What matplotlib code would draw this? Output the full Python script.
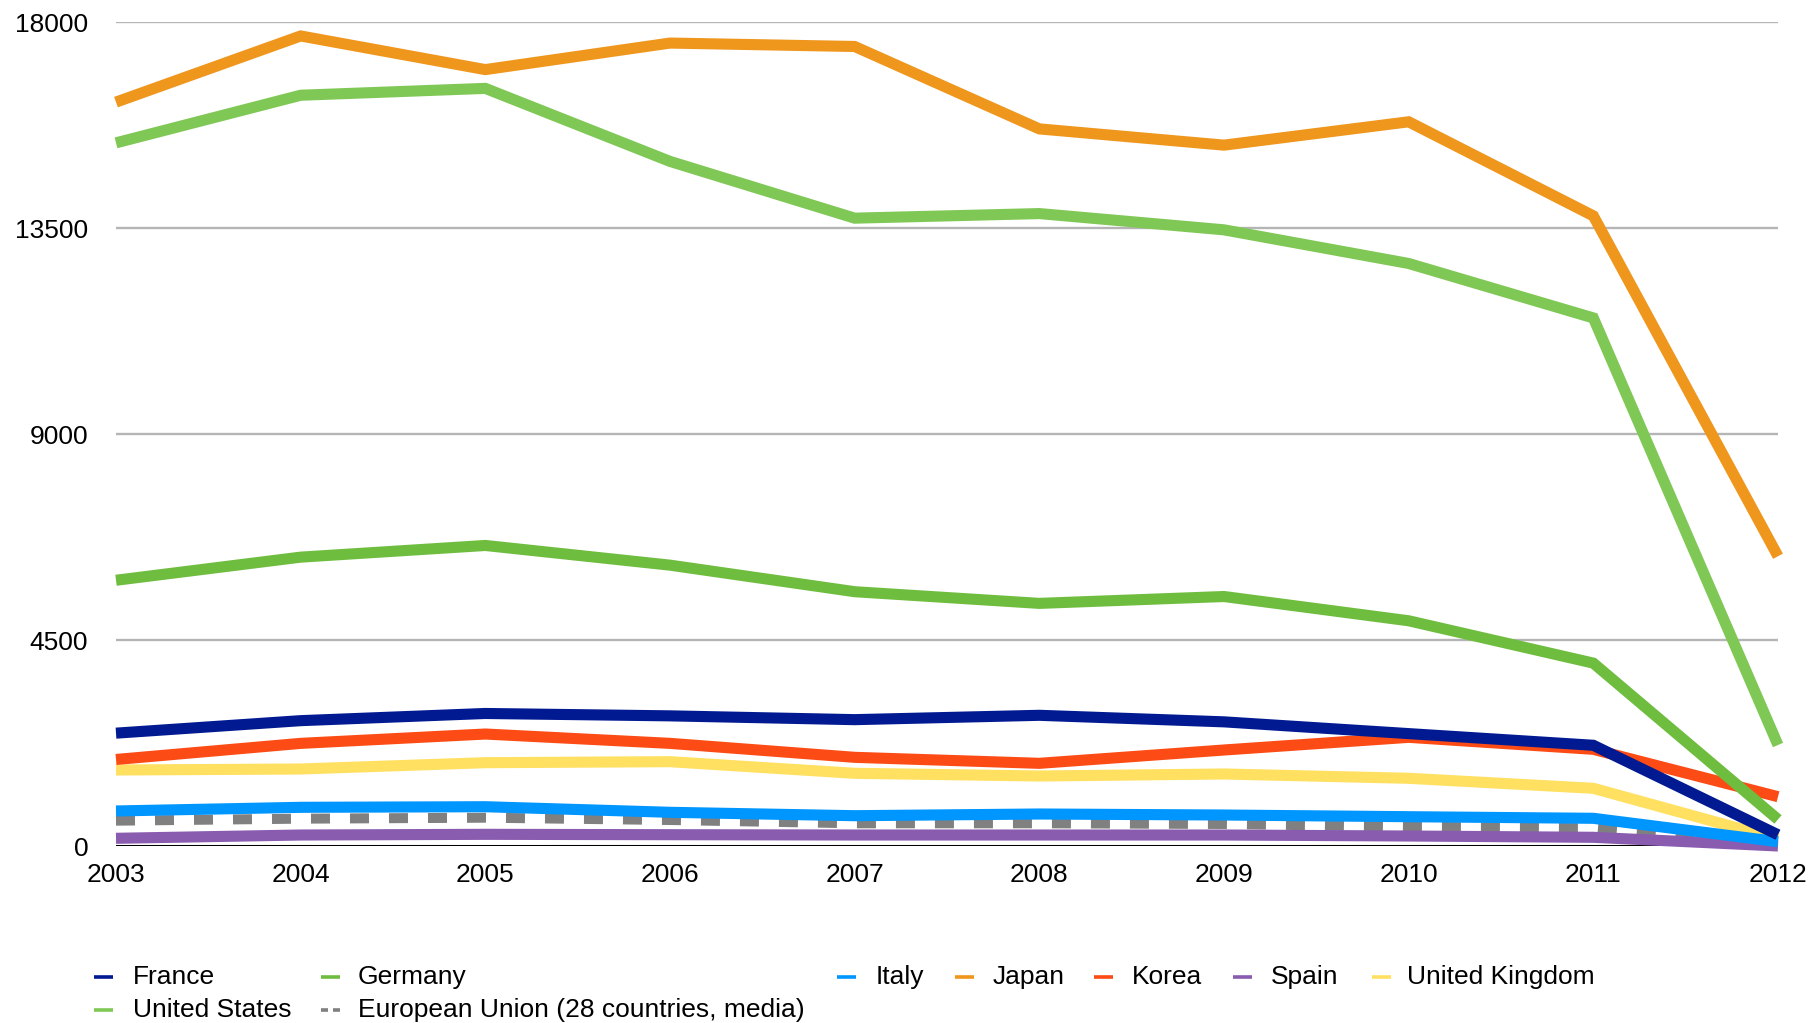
import matplotlib
matplotlib.use("Agg")
import matplotlib.pyplot as plt
from matplotlib.lines import Line2D

plt.rcParams["font.family"] = ["Liberation Sans", "DejaVu Sans"]

years = [2003, 2004, 2005, 2006, 2007, 2008, 2009, 2010, 2011, 2012]
y_ticks = [0, 4500, 9000, 13500, 18000]

france = [2465, 2738, 2895, 2843, 2760, 2855, 2712, 2455, 2200, 245]
germany = [5805, 6310, 6565, 6135, 5555, 5300, 5450, 4920, 3995, 580]
italy = [765, 845, 858, 736, 662, 699, 677, 640, 605, 94]
japan = [16250, 17695, 16960, 17540, 17465, 15665, 15310, 15820, 13765, 6330]
korea = [1890, 2242, 2446, 2242, 1937, 1806, 2097, 2374, 2112, 1077]
spain = [168, 240, 255, 247, 240, 240, 240, 218, 190, 0]
uk = [1660, 1682, 1820, 1842, 1588, 1529, 1573, 1479, 1260, 150]
usa = [15360, 16400, 16550, 14955, 13715, 13815, 13460, 12725, 11535, 2206]
eu28 = [553, 597, 618, 568, 496, 496, 481, 422, 387, 40]

series_names = ["France", "Germany", "Italy", "Japan", "Korea", "Spain",
                "United Kingdom", "United States",
                "European Union (28 countries, media)"]
series_values = [france, germany, italy, japan, korea, spain, uk, usa, eu28]
series_colors = ["#021a91", "#6fbd3f", "#0096ff", "#ef961d", "#fc4b14",
                 "#8a5caf", "#ffe061", "#80c856", "#808080"]
series_dashed = [False] * 8 + [True]

W, H = 1819, 1023
fig = plt.figure(figsize=(W / 100, H / 100), dpi=100)
ax = fig.add_axes([116 / W, 1 - 846 / H, (1778 - 116) / W, (846 - 22) / H])

# earlier series are drawn on top of later ones
n = len(series_names)
for i, (name, vals, col, dashed) in enumerate(zip(series_names, series_values,
                                                  series_colors, series_dashed)):
    kw = dict(color=col, lw=8.0, solid_capstyle="butt", solid_joinstyle="miter",
              zorder=10 + (n - i), clip_on=False)
    if dashed:
        kw.update(dashes=(1.9, 2.0), dash_capstyle="butt", lw=7.2)
    ax.plot(years, vals, **kw)

ax.set_xlim(years[0], years[-1])
ax.set_ylim(0, 18000)
ax.set_xticks(years)
ax.set_xticklabels([str(y) for y in years])
ax.set_yticks(y_ticks)
ax.set_yticklabels([str(v) for v in y_ticks])
ax.tick_params(axis="both", length=0, labelsize=19, colors="black")
ax.tick_params(axis="y", pad=20)
ax.tick_params(axis="x", pad=12)

for v in y_ticks[1:]:
    ax.axhline(v, color="#b5b5b5", lw=1.7, zorder=1)
ax.axhline(0, color="black", lw=2.2, zorder=2)

for s in ax.spines.values():
    s.set_visible(False)

# legend laid out in figure pixel coordinates
legend_entries = [
    # (marker start x, text x, row center y)
    (94, 133, 977), (321, 358, 977), (837, 876, 977), (955, 993, 977),
    (1094, 1132, 977), (1233, 1271, 977), (1372, 1407, 977),
    (94, 133, 1010), (321, 358, 1010),
]
for (mx, tx, ry), name, col, dashed in zip(legend_entries, series_names,
                                           series_colors, series_dashed):
    yf = 1 - ry / H
    if dashed:
        for a, b in [(mx, mx + 7), (mx + 12, mx + 19)]:
            fig.add_artist(Line2D([a / W, b / W], [yf, yf], color=col, lw=2.6,
                                  solid_capstyle="butt"))
    else:
        fig.add_artist(Line2D([mx / W, (mx + 19) / W], [yf, yf], color=col,
                              lw=2.6, solid_capstyle="butt"))
    fig.text(tx / W, yf, name, fontsize=19, va="center", ha="left", color="black")

fig.savefig("out.png", dpi=100)
